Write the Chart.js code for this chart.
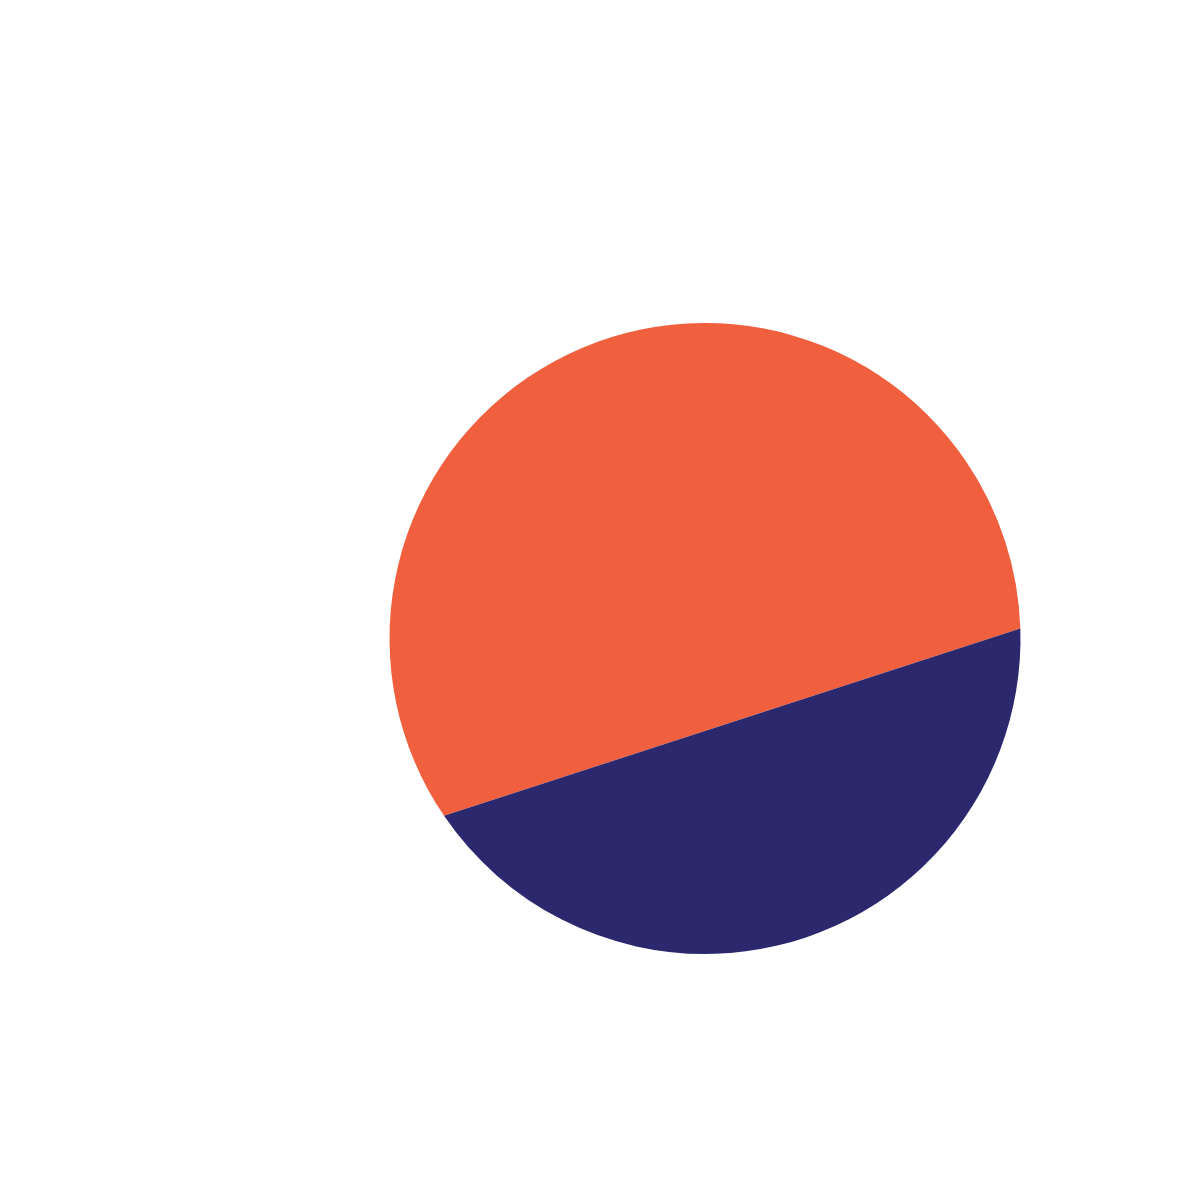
<!DOCTYPE html>
<html>
<head>
<meta charset="utf-8">
<title>Pie</title>
<script src="https://cdn.jsdelivr.net/npm/chart.js@4.4.1/dist/chart.umd.min.js"></script>
<style>
  html, body { margin: 0; padding: 0; background: #ffffff; }
  #wrap { position: relative; width: 1200px; height: 1181px; }
</style>
</head>
<body>
<div id="wrap"><canvas id="pie"></canvas></div>
<script>
// two-slice pie, slices drawn as chord segments (arc + closePath)
const categories = ["A", "B"];
const shares = [59, 41];
const colours = ["#f0603f", "#2b286d"];

const chordSlices = {
  id: "chordSlices",
  beforeDatasetDraw(chart, args) {
    const ctx = chart.ctx;
    args.meta.data.forEach((arc) => {
      const p = arc.getProps(["x", "y", "startAngle", "endAngle", "outerRadius"], true);
      ctx.save();
      ctx.beginPath();
      ctx.arc(p.x, p.y, p.outerRadius, p.startAngle, p.endAngle);
      ctx.closePath();
      ctx.fillStyle = arc.options.backgroundColor;
      ctx.fill();
      ctx.restore();
    });
    return false;
  }
};

new Chart(document.getElementById("pie"), {
  type: "pie",
  data: {
    labels: categories,
    datasets: [{
      data: shares,
      backgroundColor: colours,
      borderWidth: 0,
    }],
  },
  options: {
    responsive: true,
    maintainAspectRatio: false,
    animation: false,
    rotation: 235.8,
    layout: { padding: { left: 389, right: 179, top: 323, bottom: 227 } },
    plugins: {
      legend: { display: false },
      tooltip: { enabled: false },
    },
  },
  plugins: [chordSlices],
});
</script>
</body>
</html>
